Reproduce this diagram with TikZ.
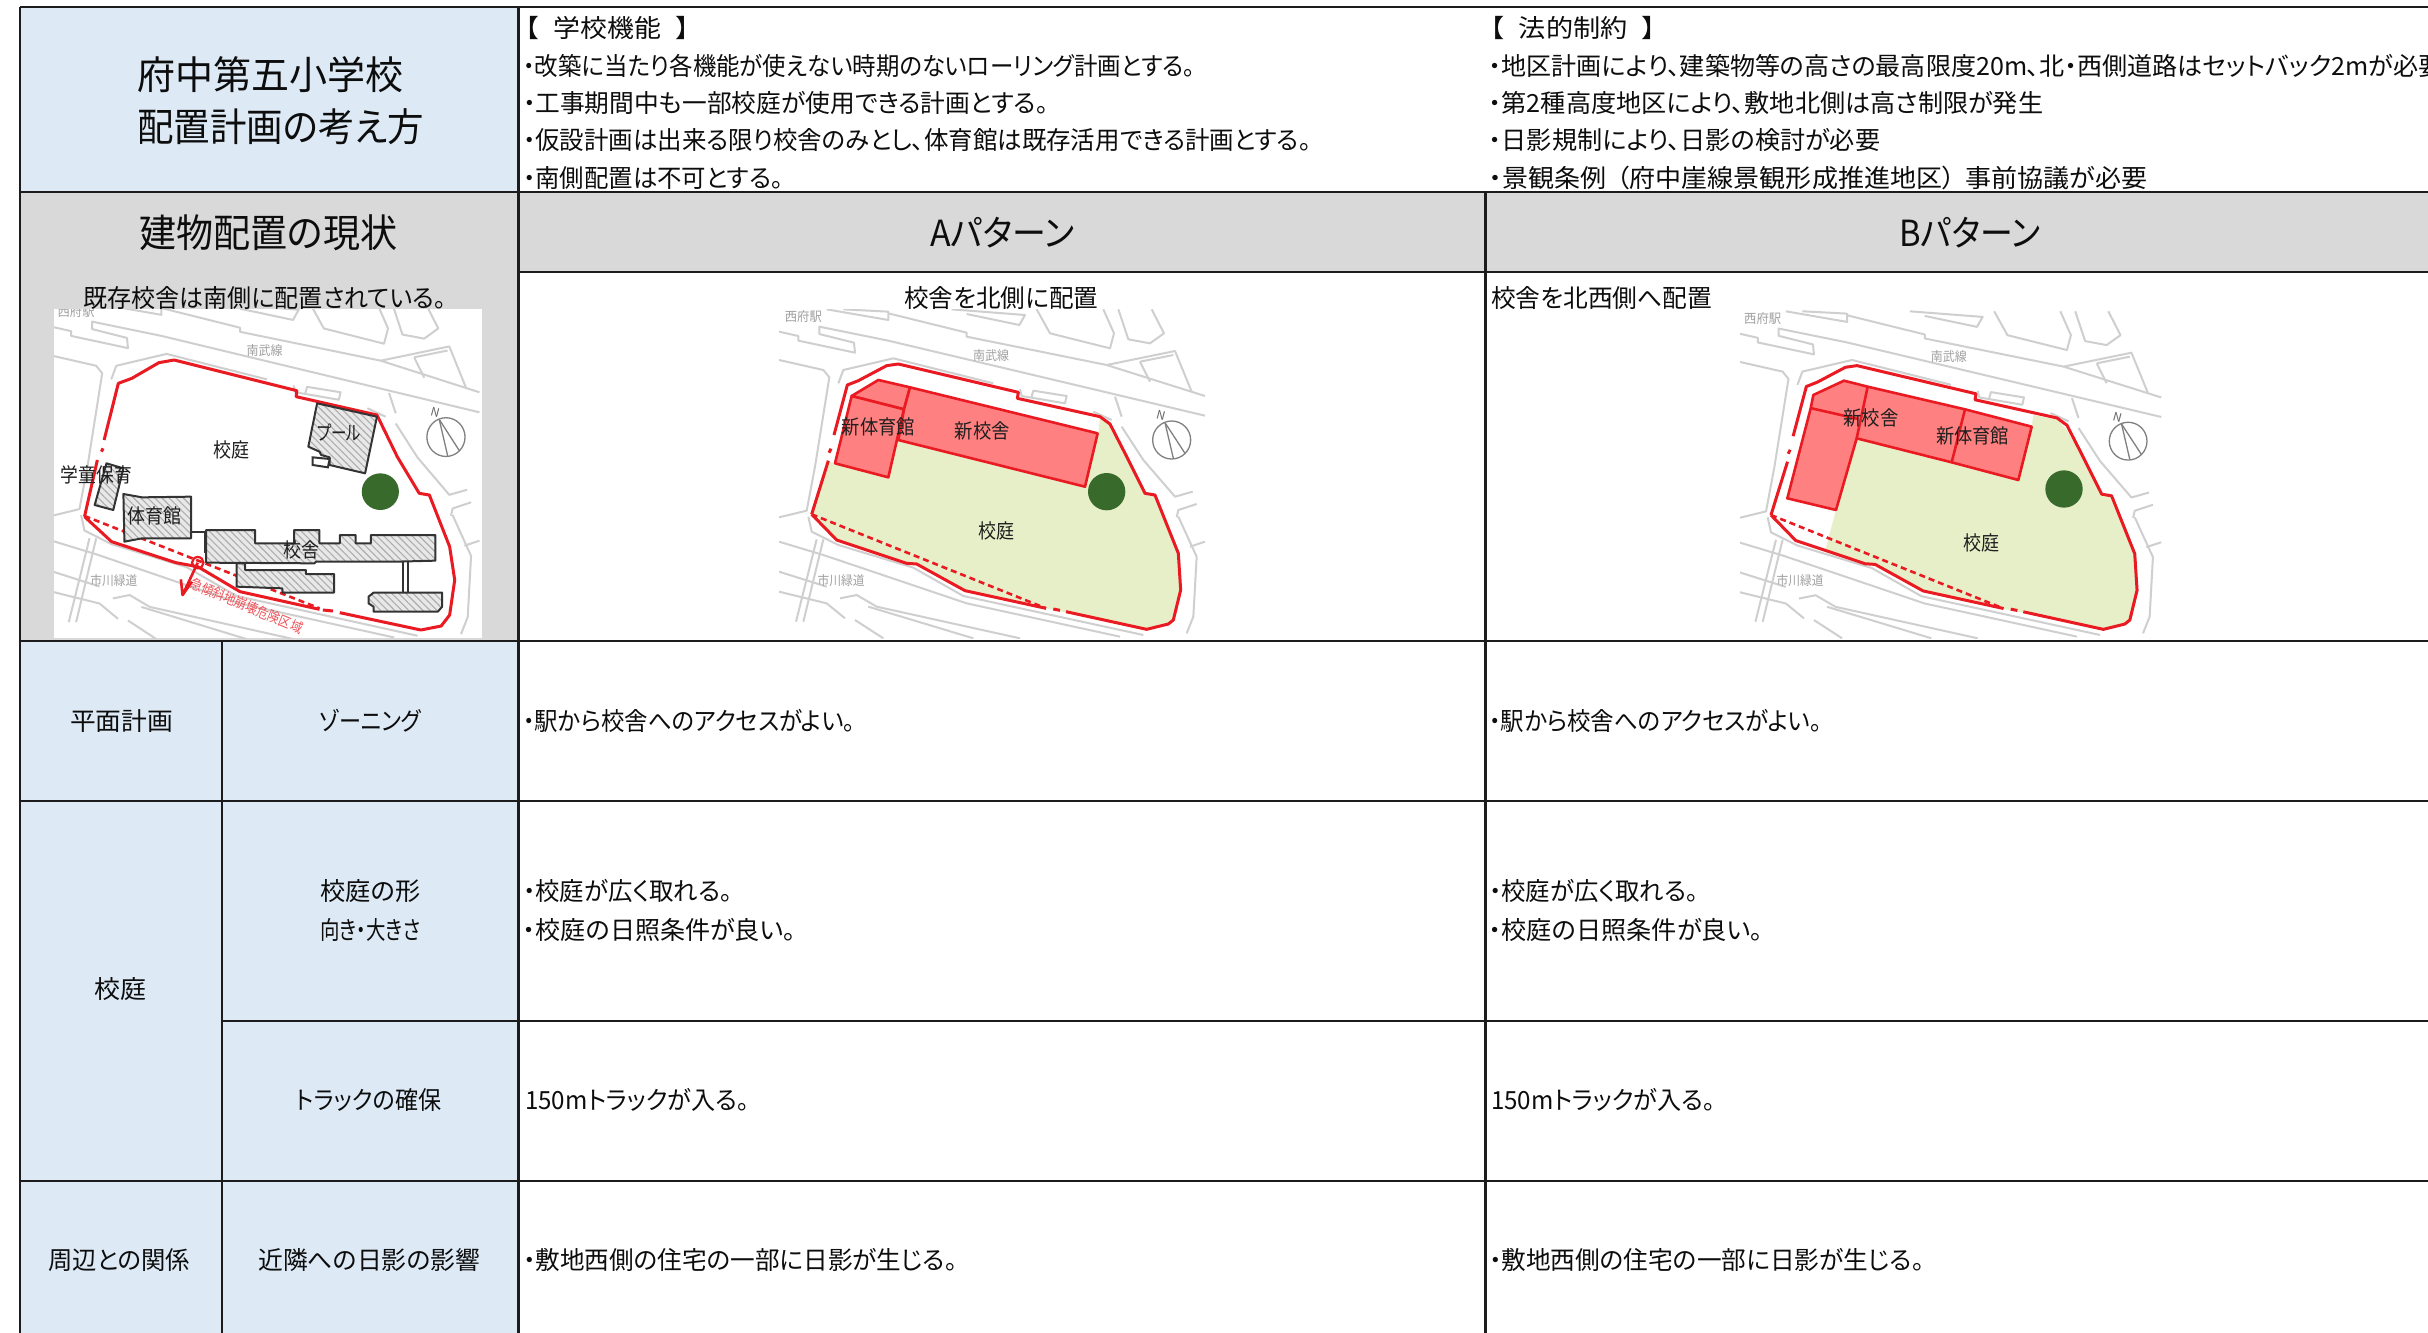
\documentclass[tikz,border=0pt]{standalone}
\usepackage{graphicx}
\usepackage{fontspec}
\setmainfont{Noto Sans CJK JP}[RawFeature={+palt}]
\usetikzlibrary{patterns.meta}
\definecolor{cellblue}{HTML}{DDEAF6}
\definecolor{cellgrey}{HTML}{D9D9D9}
\definecolor{roadgrey}{HTML}{CFCFCF}
\definecolor{maplabel}{HTML}{A0A0A0}
\definecolor{sitered}{HTML}{EA1A22}
\definecolor{newred}{HTML}{FF8080}
\definecolor{yardgreen}{HTML}{E7EFC8}
\definecolor{treegreen}{HTML}{386A2B}
\definecolor{gridline}{HTML}{1C1C1C}
\tikzset{
  txt/.style={anchor=base west,inner sep=0pt,text=black!95},
  gridrule/.style={draw=gridline,line width=2.6pt},
  road/.style={draw=roadgrey,line width=2pt,line join=round},
  site/.style={draw=sitered,line width=3pt,line join=round},
  sitedash/.style={draw=sitered,line width=2.6pt,dash pattern=on 6pt off 4pt},
  newbld/.style={fill=newred,draw=sitered,line width=2.6pt,line join=round},
  oldbld/.style={preaction={fill=black!9},pattern={Lines[angle=-45,distance=5pt,line width=1.1pt]},pattern color=black!32,draw=black!80,line width=2pt,line join=round},
  tree/.style={fill=treegreen,draw=none},
  lab/.style={inner sep=0pt,text=black!88}
}
% name, left x, centre y, width, font size, text
\newcommand\fl[6]{\node[txt,font=\fontsize{#5}{#5}\selectfont] (#1) at ({#2},{#3+0.41*#5}) {\resizebox{#4pt}{\height}{#6}};}
% label fitted to a width, centred at a coordinate of the current scope
\newcommand\ml[6][lab]{\node[#1,font=\fontsize{#5}{#5}\selectfont] (#2) at (#3) {\resizebox{#4pt}{\height}{#6}};}
\newcommand\basemap[1]{%
  \draw[road] (57,185)--(115,198)--(115,212)--(285,248)--(282,218)--(178,192)--(178,170)--(385,212)--(1335,437);
  \draw[road] (200,118)--(385,150)--(385,125)--(250,118);
  \draw[road] (385,130)--(620,188)--(620,200)--(1040,285)--(1335,378);
  \draw[road] (575,118)--(795,135)--(778,165)--(620,132);
  \draw[road] (830,118)--(870,190)--(1050,235)--(1062,190)--(1030,118);
  \draw[road] (1075,118)--(1105,208)--(1170,220)--(1212,190)--(1175,118);
  \draw[road] (1040,285)--(1245,243)--(1295,365);
  \draw[road] (1140,275)--(1240,255);
  \draw[road] (1140,275)--(1170,335);
  \draw[road] (57,270)--(190,300)--(208,322)--(165,590)--(140,722)--(57,742);
  \draw[road] (235,340)--(250,300)--(400,265)--(700,340);
  \draw[road] (780,358)--(785,378)--(915,400)--(920,378)--(820,362)--(815,380);
  \draw[road] (1000,425)--(1055,450);
  \draw[road] (145,740)--(155,785)--(235,825)--(460,893)--(610,978)--(860,1032)--(1150,1095);
  \draw[road] (1065,380)--(1085,440);
  \draw[road] (1085,470)--(1150,570)--(1245,680)--(1298,665);
  \draw[road] (1250,742)--(1255,720)--(1310,702);
  \draw[road] (1255,740)--(1310,860)--(1300,1040)--(1280,1090);
  \draw[road] (1290,830)--(1335,815);
  \draw[road] (170,808)--(108,1055);
  \draw[road] (190,808)--(130,1055);
  \draw[road] (57,815)--(190,855)--(620,1000)--(1080,1100);
  \draw[road] (57,905)--(200,950);
  \draw[road] (57,965)--(200,1000)--(255,1045);
  \draw[road] (240,985)--(290,975)--(350,1010)--(780,1105);
  \draw[road] (325,1010)--(640,1105);
  \draw[road] (285,1050)--(370,1105);
  \draw[road,draw=black!50,line width=1.3pt] (1235,510) ellipse (57 and 57);
  \draw[road,draw=black!50,line width=1.3pt] (1215,458)--(1240,565);
  \draw[road,draw=black!50,line width=1.3pt] (1215,458)--(1275,550);
  \node[inner sep=0pt,rotate=-15,text=black!60,font=\fontsize{12}{12}\selectfont] (#1n) at (1203,437) {N};
  \ml[inner sep=0pt,text=maplabel]{#1st}{130,140}{37}{13}{西府駅}
  \ml[inner sep=0pt,text=maplabel]{#1nb}{693,256}{36}{13}{南武線}
  \ml[inner sep=0pt,text=maplabel]{#1ic}{243,932}{47}{13}{市川緑道}
}
\newcommand\siteline{%
  \draw[site] (155,733)--(205,572);
  \draw[site] (207,548)--(213,536);
  \draw[site] (222,495)--(262,345)--(295,332)--(380,287)--(415,282)--(775,367)--(772,385)--(1020,440)--(1050,462)--(1095,550)--(1155,670)--(1185,675)--(1255,850)--(1262,960)--(1240,1050)--(1225,1062)--(1160,1078)--(918,1025);
  \draw[site] (880,1017)--(900,1021);
  \draw[site] (858,1015)--(615,962)--(470,882)--(440,880)--(230,810)--(155,733);
  \draw[sitedash] (155,733)--(858,1015);
}
\begin{document}
\begin{tikzpicture}[x=1pt,y=-1pt]
\useasboundingbox (0,0) rectangle (2428,1333);
\clip (0,0) rectangle (2428,1333);
\fill[white] (0,0) rectangle (2428,1333);
% cell fills
\fill[cellblue] (20,7) rectangle (518,192);
\fill[cellgrey] (20,192) rectangle (518,641);
\fill[cellgrey] (518,192) rectangle (2428,272);
\fill[cellblue] (20,641) rectangle (518,1333);
% existing layout map
\fill[white] (54,309) rectangle (482,638);
\begin{scope}
  \clip (54,309) rectangle (482,638);
  \begin{scope}[shift={(32.6,263.9)},x=.3347pt,y=-.3396pt]
    \basemap{e}
  \end{scope}
  \begin{scope}[shift={(0,260)},x=.33807pt,y=-.33333pt]
    \draw[site] (250,770)--(288,600);
    \draw[site] (300,575)--(305,565);
    \draw[site] (308,540)--(350,370)--(390,355)--(470,308)--(515,300)--(878,392)--(876,410)--(1115,465)--(1175,590)--(1240,700)--(1270,705)--(1330,860)--(1345,960)--(1330,1065)--(1305,1098)--(1245,1110)--(1005,1058);
    \draw[site] (955,1050)--(985,1053);
    \draw[site] (945,1048)--(710,995)--(585,920)--(520,908)--(330,845)--(250,770);
    \draw[sitedash] (250,768)--(945,1045);
    \draw[oldbld] (938,430)--(1115,470)--(1080,640)--(975,615)--(975,592)--(950,585)--(945,575)--(912,560)--cycle;
    \draw[draw=black!80,line width=2pt,fill=white] (925,592)--(975,597)--(970,622)--(925,615)--cycle;
    \draw[oldbld] (315,610)--(365,625)--(335,750)--(280,735)--cycle;
    \draw[draw=black!80,line width=2pt] (565,815)--(605,815)--(605,880);
    \draw[oldbld] (365,702)--(420,712)--(565,710)--(565,835)--(420,835)--(368,845)--cycle;
    \draw[oldbld] (610,810)--(755,810)--(755,850)--(870,850)--(870,810)--(945,810)--(945,850)--(1005,850)--(1005,825)--(1052,825)--(1052,850)--(1097,850)--(1097,825)--(1288,825)--(1288,902)--(1170,905)--(935,905)--(930,910)--(610,908)--cycle;
    \draw[oldbld] (700,910)--(725,910)--(725,930)--(905,930)--(905,942)--(988,942)--(988,998)--(835,998)--(835,985)--(700,980)--cycle;
    \draw[draw=black!80,line width=2pt] (1193,905)--(1193,998) (1208,905)--(1208,998);
    \draw[oldbld] (1105,998)--(1308,998)--(1308,1040)--(1295,1055)--(1105,1055)--(1105,1040)--(1090,1030)--(1090,1010)--cycle;
    \fill[tree] (1125,695) ellipse (55 and 55);
    \draw[sitered,line width=2.2pt] (585,908) ellipse (17 and 17);
    \draw[sitered,line width=2.6pt,line join=round] (585,908)--(540,1005)--(535,958);
    \draw[sitered,line width=2.6pt] (540,1005)--(568,965);
    \ml{e1}{685,570}{36}{20}{校庭}
    \ml{e2}{1003,517}{44}{20}{プール}
    \ml{e3}{285,645}{71}{20}{学童保育}
    \ml{e4}{458,768}{54}{20}{体育館}
    \ml{e5}{893,870}{36}{20}{校舎}
    \node[inner sep=0pt,rotate=-22.7,text=sitered!75,font=\fontsize{14}{14}\selectfont] (e6) at (730,1037) {\resizebox{120pt}{\height}{急傾斜地崩壊危険区域}};
  \end{scope}
\end{scope}
% pattern A map
\begin{scope}
  \clip (779,309) rectangle (1205,638);
  \begin{scope}[shift={(760,270)},x=.33333pt,y=-.33333pt]
    \basemap{a}
    \fill[yardgreen] (155,733)--(205,575)--(225,580)--(385,622)--(415,510)--(975,650)--(1015,490)--(1020,440)--(1050,462)--(1095,550)--(1155,670)--(1185,675)--(1255,850)--(1262,960)--(1240,1050)--(1225,1062)--(1160,1078)--(858,1015)--(615,962)--(470,882)--(440,880)--(230,810)--cycle;
    \draw[newbld] (275,378)--(355,330)--(450,352)--(432,418)--cycle;
    \draw[newbld] (275,378)--(225,580)--(385,622)--(432,418)--cycle;
    \draw[newbld] (450,352)--(1013,490)--(975,650)--(415,510)--(432,418)--cycle;
    \siteline
    \fill[tree] (1040,665) circle (56);
    \ml{a1}{710,782}{36}{20}{校庭}
    \ml{a2}{667,482}{55}{20}{新校舎}
    \ml{a3}{355,470}{73}{20}{新体育館}
  \end{scope}
\end{scope}
% pattern B map
\begin{scope}
  \clip (1740,309) rectangle (2163,638);
  \begin{scope}[shift={(1719.7,272.2)},x=.3307pt,y=-.3313pt]
    \basemap{b}
  \end{scope}
  \begin{scope}[shift={(1700,270)},x=.33333pt,y=-.33333pt]
    \fill[yardgreen] (470,505)--(408,720)--(375,843)--(490,882)--(530,882)--(665,965)--(905,1015)--(1210,1078)--(1280,1062)--(1295,1050)--(1315,960)--(1305,850)--(1240,685)--(1205,672)--(1150,565)--(1100,480)--(1075,450)--(1000,435)--(995,470)--(955,630)--cycle;
    \draw[newbld] (340,375)--(432,332)--(503,350)--(795,418)--(995,470)--(955,630)--(755,577)--(470,505)--(408,720)--(262,685)--(332,415)--cycle;
    \draw[sitered,line width=2.6pt] (335,415)--(475,447);
    \draw[sitered,line width=2.6pt] (503,350)--(470,505);
    \draw[sitered,line width=2.6pt] (795,418)--(755,577);
  \end{scope}
  \begin{scope}[shift={(1719.7,272.2)},x=.3307pt,y=-.3313pt]
    \siteline
  \end{scope}
  \begin{scope}[shift={(1700,270)},x=.33333pt,y=-.33333pt]
    \fill[tree] (1092,657) circle (56);
    \ml{b1}{845,820}{36}{20}{校庭}
    \ml{b2}{513,443}{55}{20}{新校舎}
    \ml{b3}{818,497}{73}{20}{新体育館}
  \end{scope}
\end{scope}
% grid
\draw[gridrule] (20,7)--(2428,7);
\draw[gridrule] (20,192)--(2428,192);
\draw[gridrule] (518,272)--(2428,272);
\draw[gridrule] (20,641)--(2428,641);
\draw[gridrule] (20,801)--(2428,801);
\draw[gridrule] (222,1021)--(2428,1021);
\draw[gridrule] (20,1181)--(2428,1181);
\draw[gridrule] (20,7)--(20,1333);
\draw[gridrule] (518.5,7)--(518.5,1333);
\draw[gridrule] (222,641)--(222,1333);
\draw[gridrule] (1485.5,192)--(1485.5,1333);
% heading texts
\fl{title1}{137}{74}{266}{39}{府中第五小学校}
\fl{title2}{137}{126}{287}{39}{配置計画の考え方}
\fl{now}{139}{232}{258}{39}{建物配置の現状}
\fl{nowsub}{83}{297}{363}{25}{既存校舎は南側に配置されている。}
\fl{fn0}{525}{27}{164}{25}{【\hspace{.55em}学校機能\hspace{.55em}】}
\fl{fn1}{523}{65}{672}{25}{・改築に当たり各機能が使えない時期のないローリング計画とする。}
\fl{fn2}{523}{102}{525}{25}{・工事期間中も一部校庭が使用できる計画とする。}
\fl{fn3}{523}{139}{788}{25}{・仮設計画は出来る限り校舎のみとし、体育館は既存活用できる計画とする。}
\fl{fn4}{523}{177}{260}{25}{・南側配置は不可とする。}
\fl{lw0}{1490}{27}{166}{25}{【\hspace{.55em}法的制約\hspace{.55em}】}
\fl{lw1}{1489}{65}{954}{25}{・地区計画により、建築物等の高さの最高限度20m、北・西側道路はセットバック2mが必要}
\fl{lw2}{1489}{102}{554}{25}{・第2種高度地区により、敷地北側は高さ制限が発生}
\fl{lw3}{1489}{139}{391}{25}{・日影規制により、日影の検討が必要}
\fl{lw4}{1489}{177}{658}{25}{・景観条例\hspace{.4em}（府中崖線景観形成推進地区）\hspace{.4em}事前協議が必要}
\fl{pa}{930}{232}{144}{36}{Aパターン}
\fl{pb}{1899}{232}{141}{36}{Bパターン}
\fl{pas}{904}{297}{194}{25}{校舎を北側に配置}
\fl{pbs}{1491}{297}{221}{25}{校舎を北西側へ配置}
% table texts
\fl{r1a}{70}{720}{103}{25}{平面計画}
\fl{r1b}{319}{720}{102}{25}{ゾーニング}
\fl{r1c}{523}{720}{332}{25}{・駅から校舎へのアクセスがよい。}
\fl{r1d}{1489}{720}{333}{25}{・駅から校舎へのアクセスがよい。}
\fl{r2a}{94}{988}{52}{25}{校庭}
\fl{r2b}{320}{890}{100}{25}{校庭の形}
\fl{r2c}{320}{929}{100}{25}{向き・大きさ}
\fl{r2d}{523}{890}{209}{25}{・校庭が広く取れる。}
\fl{r2e}{523}{929}{273}{25}{・校庭の日照条件が良い。}
\fl{r2f}{1489}{890}{209}{25}{・校庭が広く取れる。}
\fl{r2g}{1489}{929}{274}{25}{・校庭の日照条件が良い。}
\fl{r3a}{296}{1099}{145}{25}{トラックの確保}
\fl{r3b}{525}{1099}{224}{25}{150mトラックが入る。}
\fl{r3c}{1491}{1099}{224}{25}{150mトラックが入る。}
\fl{r4a}{48}{1259}{142}{25}{周辺との関係}
\fl{r4b}{258}{1259}{222}{25}{近隣への日影の影響}
\fl{r4c}{523}{1259}{434}{25}{・敷地西側の住宅の一部に日影が生じる。}
\fl{r4d}{1489}{1259}{435}{25}{・敷地西側の住宅の一部に日影が生じる。}
\end{tikzpicture}
\end{document}
